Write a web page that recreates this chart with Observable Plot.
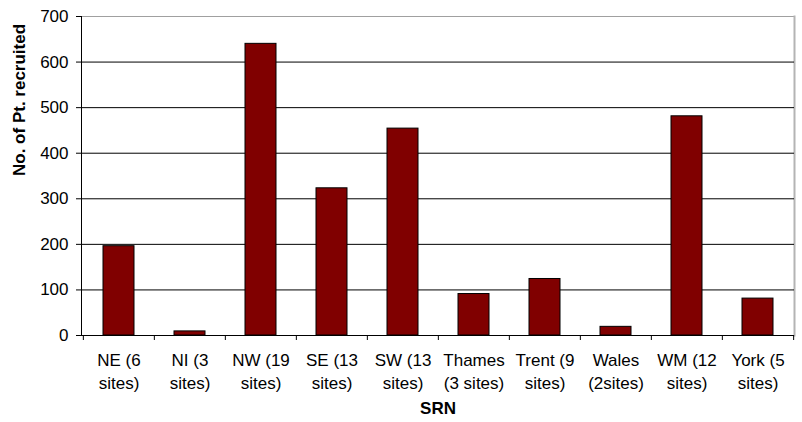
<!DOCTYPE html>
<html>
<head>
<meta charset="utf-8">
<script src="https://cdn.jsdelivr.net/npm/d3@7"></script>
<script src="https://cdn.jsdelivr.net/npm/@observablehq/plot@0.6"></script>
<style>
  html, body { margin: 0; padding: 0; background: #fff; }
</style>
</head>
<body>
<div id="chart"></div>
<script>
const categories = ["NE (6 sites)", "NI (3 sites)", "NW (19 sites)", "SE (13 sites)", "SW (13 sites)", "Thames (3 sites)", "Trent (9 sites)", "Wales (2sites)", "WM (12 sites)", "York (5 sites)"];
const tickLabels = ["NE (6\nsites)", "NI (3\nsites)", "NW (19\nsites)", "SE (13\nsites)", "SW (13\nsites)", "Thames\n(3 sites)", "Trent (9\nsites)", "Wales\n(2sites)", "WM (12\nsites)", "York (5\nsites)"];
const recruited = [196, 9, 640, 323, 454, 91, 124, 19, 481, 81];
const yTicks = [0, 100, 200, 300, 400, 500, 600, 700];
const gridValues = [100, 200, 300, 400, 500, 600];

const data = categories.map((c, i) => ({srn: c, n: recruited[i]}));
const labelOf = new Map(categories.map((c, i) => [c, tickLabels[i]]));

const W = 802, H = 422, ML = 81, MR = 8, MT = 16, MB = 87;
const step = (W - ML - MR) / categories.length;

const chart = Plot.plot({
  width: W,
  height: H,
  marginLeft: ML,
  marginRight: MR,
  marginTop: MT,
  marginBottom: MB,
  style: {fontFamily: "'Liberation Sans', Arial, sans-serif", fontSize: "17px", color: "#000", background: "#fff"},
  x: {domain: categories, paddingInner: 0.57, paddingOuter: 0.285, label: null},
  y: {domain: [0, 700], label: null},
  marks: [
    Plot.ruleY([700], {stroke: "#a0a0a0"}),
    Plot.frame({anchor: "right", stroke: "#b4b4b4", strokeWidth: 2}),
    Plot.ruleY(gridValues, {stroke: "#000", strokeWidth: 1}),
    Plot.barY(data, {x: "srn", y: "n", fill: "#800000", stroke: "#000", strokeWidth: 1}),
    Plot.ruleY([0], {stroke: "#000", strokeWidth: 1}),
    Plot.frame({anchor: "left", stroke: "#000"}),
    Plot.axisY({ticks: yTicks, tickSize: 5, tickPadding: 8, fontSize: 17, stroke: "#000", label: null}),
    Plot.axisX({text: null, tickSize: 5, dx: -step / 2, stroke: "#000", label: null}),
    Plot.axisX([categories[categories.length - 1]], {text: null, tickSize: 5, dx: step / 2, stroke: "#000", label: null}),
    Plot.axisX({tickSize: 0, tickPadding: 14, tickFormat: d => labelOf.get(d), lineHeight: 1.37, fontSize: 17, label: null}),
    Plot.text(["No. of Pt. recruited"], {frameAnchor: "left", rotate: -90, dx: -62, fontWeight: "bold", fontSize: 17}),
    Plot.text(["SRN"], {frameAnchor: "bottom", dy: 78, fontWeight: "bold", fontSize: 17})
  ]
});
document.getElementById("chart").appendChild(chart);
</script>
</body>
</html>
